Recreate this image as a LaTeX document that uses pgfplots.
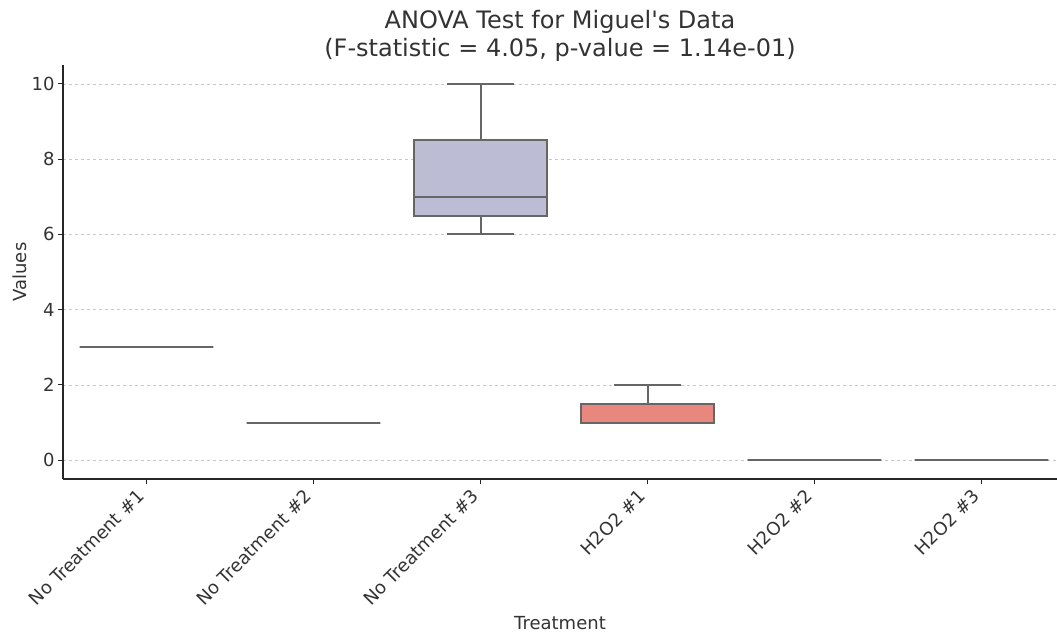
\documentclass[border=0pt]{standalone}
\usepackage{pgfplots}
\pgfplotsset{compat=1.18}
\usepgfplotslibrary{statistics}
\usepackage{fontspec}
\setmainfont{DejaVu Sans}
\definecolor{boxline}{RGB}{102,102,102}
\definecolor{txt}{RGB}{51,51,51}
\definecolor{c1}{RGB}{141,211,199}
\definecolor{c2}{RGB}{240,240,180}
\definecolor{c3}{RGB}{188,188,212}
\definecolor{c4}{RGB}{232,135,125}
\definecolor{c5}{RGB}{128,177,211}
\definecolor{c6}{RGB}{253,180,98}
\begin{document}
\begin{tikzpicture}
\begin{axis}[
  name=ax,
  at={(0pt,0pt)}, anchor=south west,
  scale only axis,
  width=994pt, height=414pt,
  xmin=-0.5, xmax=5.452,
  ymin=-0.5, ymax=10.5,
  axis lines*=left,
  axis line style={line width=1.2pt, color=black!85},
  xtick={0,1,2,3,4,5},
  xticklabels={No Treatment \#1,No Treatment \#2,No Treatment \#3,H2O2 \#1,H2O2 \#2,H2O2 \#3},
  ytick={0,2,4,6,8,10},
  /pgf/number format/assume math mode=true,
  tick style={line width=1pt, color=black!85},
  tick align=outside,
  major tick length=5pt,
  tick label style={font=\fontsize{18}{21}\selectfont, text=txt},
  x tick label style={xshift=-10pt, yshift=-1pt, rotate=45, anchor=north east, inner sep=2pt},
  ymajorgrids,
  grid style={dashed, line width=0.6pt, color=black!22},
  xlabel={Treatment},
  ylabel={Values},
  label style={font=\fontsize{18}{21}\selectfont, text=txt},
  xlabel style={yshift=-3pt},
  ylabel style={yshift=-2pt},
  title={ANOVA Test for Miguel\textquotesingle s Data\\(F-statistic = 4.05, p-value = 1.14e-01)},
  title style={font=\fontsize{24}{28}\selectfont, text=txt, align=center, yshift=-6pt},
  boxplot/draw direction=y,
  boxplot/box extend=0.8,
  boxplot/whisker extend=0.4,
  every boxplot/.style={draw=boxline, line width=2pt},
]
\addplot+[boxplot prepared={draw position=0, lower whisker=3, lower quartile=3, median=3, upper quartile=3, upper whisker=3}, fill=c1, draw=boxline, line width=2pt, solid, mark=none] coordinates {};
\addplot+[boxplot prepared={draw position=1, lower whisker=1, lower quartile=1, median=1, upper quartile=1, upper whisker=1}, fill=c2, draw=boxline, line width=2pt, solid, mark=none] coordinates {};
\addplot+[boxplot prepared={draw position=2, lower whisker=6, lower quartile=6.5, median=7, upper quartile=8.5, upper whisker=10}, fill=c3, draw=boxline, line width=2pt, solid, mark=none] coordinates {};
\addplot+[boxplot prepared={draw position=3, lower whisker=1, lower quartile=1, median=1, upper quartile=1.5, upper whisker=2}, fill=c4, draw=boxline, line width=2pt, solid, mark=none] coordinates {};
\addplot+[boxplot prepared={draw position=4, lower whisker=0, lower quartile=0, median=0, upper quartile=0, upper whisker=0}, fill=c5, draw=boxline, line width=2pt, solid, mark=none] coordinates {};
\addplot+[boxplot prepared={draw position=5, lower whisker=0, lower quartile=0, median=0, upper quartile=0, upper whisker=0}, fill=c6, draw=boxline, line width=2pt, solid, mark=none] coordinates {};
\end{axis}
\pgfresetboundingbox
\path[use as bounding box] (-63pt,-156pt) rectangle (994pt,479pt);
\end{tikzpicture}
\end{document}
